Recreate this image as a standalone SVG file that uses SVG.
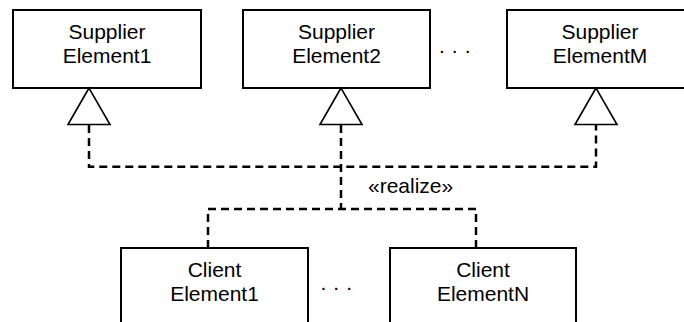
<svg xmlns="http://www.w3.org/2000/svg" width="684" height="322" viewBox="0 0 684 322">
<style>
.box{fill:#fff;stroke:#000;stroke-width:2}
.tri{fill:#fff;stroke:#000;stroke-width:1.6;stroke-linejoin:miter}
.lbl{font-family:"Liberation Sans",Arial,sans-serif;font-size:21px;fill:#000;text-anchor:middle}
.dash{fill:none;stroke:#000;stroke-width:2.5;stroke-dasharray:8 5}
.dots{font-family:"Liberation Sans",Arial,sans-serif;font-size:21px;fill:#000;letter-spacing:0.6px}
</style>
<rect width="684" height="322" fill="#fff"/>
<g id="connectors">
<path class="dash" d="M89 125 V166.7 H596 V125"/>
<path class="dash" d="M341 125 V209"/>
<path class="dash" d="M208 248 V209 H476 V248"/>
<text x="368" y="193" font-family="Liberation Sans, Arial, sans-serif" font-size="21" fill="#000">«realize»</text>
</g>
<g id="supplier1">
<rect class="box" x="13" y="10" width="188" height="78"/>
<text class="lbl" x="107" y="39">Supplier</text>
<text class="lbl" x="107" y="63">Element1</text>
<polygon class="tri" points="89,88 68,124.5 110,124.5"/>
</g>
<g id="supplier2">
<rect class="box" x="243" y="10" width="187" height="78"/>
<text class="lbl" x="336.5" y="39">Supplier</text>
<text class="lbl" x="336.5" y="63">Element2</text>
<polygon class="tri" points="341,88 320,124.5 362,124.5"/>
</g>
<g id="supplierDots">
<text class="dots" x="439" y="53">. . .</text>
</g>
<g id="supplierM">
<rect class="box" x="507" y="10" width="187" height="78"/>
<text class="lbl" x="600" y="39">Supplier</text>
<text class="lbl" x="600" y="63">ElementM</text>
<polygon class="tri" points="596,88 575,124.5 617,124.5"/>
</g>
<g id="client1">
<rect class="box" x="121" y="248" width="187" height="90"/>
<text class="lbl" x="214.5" y="277">Client</text>
<text class="lbl" x="214.5" y="301">Element1</text>
</g>
<g id="clientDots">
<text class="dots" x="320.5" y="290">. . .</text>
</g>
<g id="clientN">
<rect class="box" x="390" y="248" width="186" height="90"/>
<text class="lbl" x="483" y="277">Client</text>
<text class="lbl" x="483" y="301">ElementN</text>
</g>
</svg>
